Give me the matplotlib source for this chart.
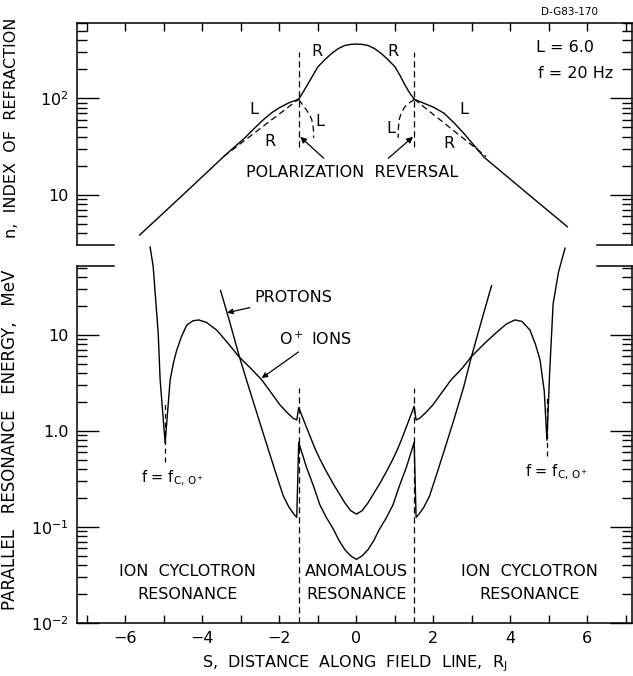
import numpy as np
import matplotlib.pyplot as plt
from matplotlib.ticker import LogLocator, NullFormatter

# ---- top panel: index of refraction n vs S (R_J) ----
s_L_left = [-5.63, -4.5, -3.4, -2.9, -2.65, -2.42, -2.2, -2.0, -1.75, -1.5]
n_L_left = [3.86, 10.1, 26, 39, 49, 60, 71, 80, 90, 98]
s_R_mid = [-1.5, -1.38, -1.25, -1.12, -1.0, -0.82, -0.64, -0.47, -0.3, -0.15, 0.0,
           0.15, 0.3, 0.47, 0.64, 0.82, 1.0, 1.12, 1.25, 1.38, 1.5]
n_R_mid = [98, 117, 143, 176, 212, 251, 292, 327, 352, 361, 364,
           361, 352, 327, 292, 251, 212, 176, 140, 114, 98]
s_L_right = [1.5, 1.75, 2.0, 2.28, 2.55, 2.8, 3.32, 4.4, 5.48]
n_L_right = [98, 89, 81, 70, 55, 43, 24.5, 10.7, 4.7]

s_Rdash_left = [-3.45, -1.5]
n_Rdash_left = [25, 98]
s_Rdash_right = [1.5, 3.37]
n_Rdash_right = [98, 25]

s_Ldash_left = [-1.5, -1.42, -1.33, -1.22, -1.16, -1.12, -1.11]
n_Ldash_left = [97, 88, 79, 68, 60, 49, 39]
s_Ldash_right = [1.5, 1.38, 1.26, 1.16, 1.11, 1.09, 1.085]
n_Ldash_right = [97, 90, 82, 70, 60, 49, 39]

s_reversal = [-1.5, 1.5]
n_reversal = [31, 300]

# ---- bottom panel: parallel resonance energy (MeV) ----
s_oplus = [-5.36, -5.28, -5.15, -5.10, -4.97, -4.84, -4.75, -4.67, -4.55, -4.41,
           -4.25, -4.1, -3.9, -3.63, -3.35, -3.05, -2.75, -2.46, -2.2, -1.99,
           -1.8, -1.64, -1.55, -1.5, -1.35, -1.21, -1.08, -0.95, -0.8, -0.6,
           -0.44, -0.3, -0.15, 0.0, 0.15, 0.3, 0.44, 0.6, 0.8, 0.95,
           1.08, 1.21, 1.35, 1.5, 1.55, 1.64, 1.8, 1.99, 2.2, 2.46,
           2.75, 2.99, 3.35, 3.64, 3.9, 4.12, 4.3, 4.51, 4.65, 4.77,
           4.88, 4.95, 5.02, 5.11, 5.25, 5.42]
e_oplus = [82, 51, 10.4, 3.4, 0.75, 3.4, 5.2, 6.9, 9.5, 12.6,
           14.0, 14.3, 13.5, 11.2, 8.3, 5.9, 4.5, 3.4, 2.45, 1.87,
           1.55, 1.35, 1.3, 1.75, 1.23, 0.89, 0.66, 0.51, 0.39, 0.28,
           0.22, 0.178, 0.148, 0.136, 0.148, 0.178, 0.22, 0.28, 0.39, 0.51,
           0.66, 0.89, 1.25, 1.8, 1.3, 1.35, 1.55, 1.87, 2.45, 3.4,
           4.5, 5.96, 8.3, 10.6, 13.0, 14.3, 13.8, 11.2, 8.0, 5.5,
           2.6, 0.8, 4.0, 21, 45, 80]

s_proton = [-3.53, -3.3, -3.04, -2.78, -2.52, -2.3, -2.1, -1.9, -1.75, -1.62,
            -1.55, -1.5, -1.3, -1.12, -0.95, -0.78, -0.6, -0.45, -0.3, -0.15,
            0.0, 0.15, 0.3, 0.45, 0.6, 0.78, 0.95, 1.12, 1.3, 1.5,
            1.55, 1.62, 1.75, 1.9, 2.1, 2.3, 2.52, 2.78, 2.99, 3.25, 3.51]
e_proton = [29, 14, 5.9, 2.7, 1.26, 0.66, 0.37, 0.21, 0.16, 0.135,
            0.126, 0.76, 0.42, 0.27, 0.17, 0.125, 0.095, 0.072, 0.058, 0.05,
            0.046, 0.05, 0.058, 0.072, 0.095, 0.125, 0.17, 0.27, 0.42, 0.76,
            0.126, 0.135, 0.16, 0.21, 0.37, 0.66, 1.26, 2.8, 5.96, 14, 32.5]

s_boundary = [-1.5, 1.5]
e_boundary = [0.01, 2.8]
s_fco = [-4.97, 4.95]
e_fco_lo = [0.47, 0.55]
e_fco_hi = [2.05, 2.2]

xticks = np.arange(-7, 8)
xlabels = ['' if (t % 2) else str(t) for t in xticks]
xlabels = [l.replace('-', '\u2212') if l else l for l in xlabels]

plt.rcParams['font.family'] = 'DejaVu Sans'
plt.rcParams['mathtext.default'] = 'regular'

fig = plt.figure(figsize=(6.33, 6.76), dpi=100)
ax1 = fig.add_axes([77/633, 1 - 245/676, 555/633, 222/676])
ax2 = fig.add_axes([77/633, 1 - 623/676, 555/633, 357/676])

xlim = (-7.26, 7.16)
dash = (0, (5, 3))
lw = 1.0
fs = 11.5

# ---------- top ----------
ax1.set_yscale('log')
ax1.set_xlim(*xlim)
ax1.set_ylim(3.04, 601)
ax1.plot(s_L_left, n_L_left, color='k', lw=lw)
ax1.plot(s_R_mid, n_R_mid, color='k', lw=lw)
ax1.plot(s_L_right, n_L_right, color='k', lw=lw)
ax1.plot(s_Rdash_left, n_Rdash_left, color='k', lw=0.9, ls=dash)
ax1.plot(s_Rdash_right, n_Rdash_right, color='k', lw=0.9, ls=dash)
ax1.plot(s_Ldash_left, n_Ldash_left, color='k', lw=0.9, ls=dash)
ax1.plot(s_Ldash_right, n_Ldash_right, color='k', lw=0.9, ls=dash)
for s in s_reversal:
    ax1.plot([s, s], n_reversal, color='k', lw=0.9, ls=dash)

ax1.text(-1.03, 303, 'R', fontsize=fs, ha='center', va='center')
ax1.text(0.96, 303, 'R', fontsize=fs, ha='center', va='center')
ax1.text(-2.66, 76, 'L', fontsize=fs, ha='center', va='center')
ax1.text(-2.26, 35.5, 'R', fontsize=fs, ha='center', va='center')
ax1.text(-0.94, 57, 'L', fontsize=fs, ha='center', va='center')
ax1.text(0.89, 49, 'L', fontsize=fs, ha='center', va='center')
ax1.text(2.8, 76, 'L', fontsize=fs, ha='center', va='center')
ax1.text(2.41, 34.4, 'R', fontsize=fs, ha='center', va='center')
ax1.text(-0.12, 17.2, 'POLARIZATION  REVERSAL', fontsize=fs, ha='center', va='center')
ax1.annotate('', xy=(-1.46, 40), xytext=(-0.85, 24),
             arrowprops=dict(arrowstyle='-|>', color='k', lw=0.9,
                             mutation_scale=9, shrinkA=0, shrinkB=0))
ax1.annotate('', xy=(1.47, 40), xytext=(0.83, 24),
             arrowprops=dict(arrowstyle='-|>', color='k', lw=0.9,
                             mutation_scale=9, shrinkA=0, shrinkB=0))
ax1.text(4.66, 333, 'L = 6.0', fontsize=fs, ha='left', va='center')
ax1.text(4.71, 182, 'f = 20 Hz', fontsize=fs, ha='left', va='center')

ax1.set_xticks(xticks)
ax1.tick_params(axis='x', which='both', top=True, bottom=False,
                labeltop=False, labelbottom=False, direction='in',
                length=6, width=1)
ax1.set_yticks([10, 100], ['10', '$10^2$'])
ax1.yaxis.set_minor_locator(LogLocator(base=10, subs=np.arange(2, 10)))
ax1.yaxis.set_minor_formatter(NullFormatter())
ax1.tick_params(axis='y', which='major', left=True, right=True,
                direction='in', length=16, width=1, labelsize=fs, pad=6)
ax1.tick_params(axis='y', which='minor', left=True, right=True,
                direction='in', length=7, width=1)
ax1.spines['bottom'].set_visible(False)
ax1.plot([xlim[0], -6.3], [0, 0], transform=ax1.get_xaxis_transform(),
         color='k', lw=1.1, clip_on=False)
ax1.plot([6.25, xlim[1]], [0, 0], transform=ax1.get_xaxis_transform(),
         color='k', lw=1.1, clip_on=False)
ax1.set_ylabel('n,  INDEX  OF  REFRACTION', fontsize=fs)
ax1.yaxis.set_label_coords(-0.105, 0.527)

# ---------- bottom ----------
ax2.set_yscale('log')
ax2.set_xlim(*xlim)
ax2.set_ylim(0.01, 52.1)
ax2.plot(s_oplus, e_oplus, color='k', lw=lw, clip_on=False)
ax2.plot(s_proton, e_proton, color='k', lw=lw, clip_on=False)
for s in s_boundary:
    ax2.plot([s, s], e_boundary, color='k', lw=0.9, ls=dash)
for s, lo, hi in zip(s_fco, e_fco_lo, e_fco_hi):
    ax2.plot([s, s], [lo, hi], color='k', lw=0.9, ls=(0, (4, 3)))

ax2.annotate('PROTONS', xy=(-3.36, 17.0), xytext=(-2.66, 24.2),
             fontsize=fs, ha='left', va='center',
             arrowprops=dict(arrowstyle='-|>', color='k', lw=0.9,
                             mutation_scale=8, shrinkA=1, shrinkB=0))
ax2.annotate('O$^+$ IONS', xy=(-2.46, 3.55), xytext=(-2.0, 8.9),
             fontsize=fs, ha='left', va='center',
             arrowprops=dict(arrowstyle='-|>', color='k', lw=0.9,
                             mutation_scale=8, shrinkA=1, shrinkB=0))
ax2.text(-4.77, 0.32, 'f = f$_{C,\\,O^+}$', fontsize=fs - 1, ha='center', va='center')
ax2.text(5.21, 0.37, 'f = f$_{C,\\,O^+}$', fontsize=fs - 1, ha='center', va='center')

for sx, top_txt in [(-4.4, 'ION  CYCLOTRON'), (0.0, 'ANOMALOUS'), (4.5, 'ION  CYCLOTRON')]:
    ax2.text(sx, 0.034, top_txt, fontsize=fs, ha='center', va='center')
    ax2.text(sx, 0.0197, 'RESONANCE', fontsize=fs, ha='center', va='center')

ax2.set_xticks(xticks, xlabels)
ax2.tick_params(axis='x', which='both', top=False, bottom=True,
                direction='in', length=6, width=1, labelsize=fs, pad=6)
ax2.set_yticks([0.01, 0.1, 1, 10], ['$10^{-2}$', '$10^{-1}$', '1.0', '10'])
ax2.yaxis.set_minor_locator(LogLocator(base=10, subs=np.arange(2, 10)))
ax2.yaxis.set_minor_formatter(NullFormatter())
ax2.tick_params(axis='y', which='major', left=True, right=True,
                direction='in', length=16, width=1, labelsize=fs, pad=6)
ax2.tick_params(axis='y', which='minor', left=True, right=True,
                direction='in', length=7, width=1)
ax2.spines['top'].set_visible(False)
ax2.plot([xlim[0], -6.3], [1, 1], transform=ax2.get_xaxis_transform(),
         color='k', lw=1.1, clip_on=False)
ax2.plot([6.25, xlim[1]], [1, 1], transform=ax2.get_xaxis_transform(),
         color='k', lw=1.1, clip_on=False)
ax2.set_ylabel('PARALLEL   RESONANCE   ENERGY,   MeV', fontsize=12)
ax2.yaxis.set_label_coords(-0.105, 0.513)
ax2.set_xlabel('S,  DISTANCE  ALONG  FIELD  LINE,  R$_J$', fontsize=fs, labelpad=5)

for ax in (ax1, ax2):
    for sp in ax.spines.values():
        sp.set_linewidth(1.1)

fig.text(0.899, 0.982, 'D-G83-170', fontsize=7.5, ha='center', va='center')

fig.savefig('out.png', dpi=100)
